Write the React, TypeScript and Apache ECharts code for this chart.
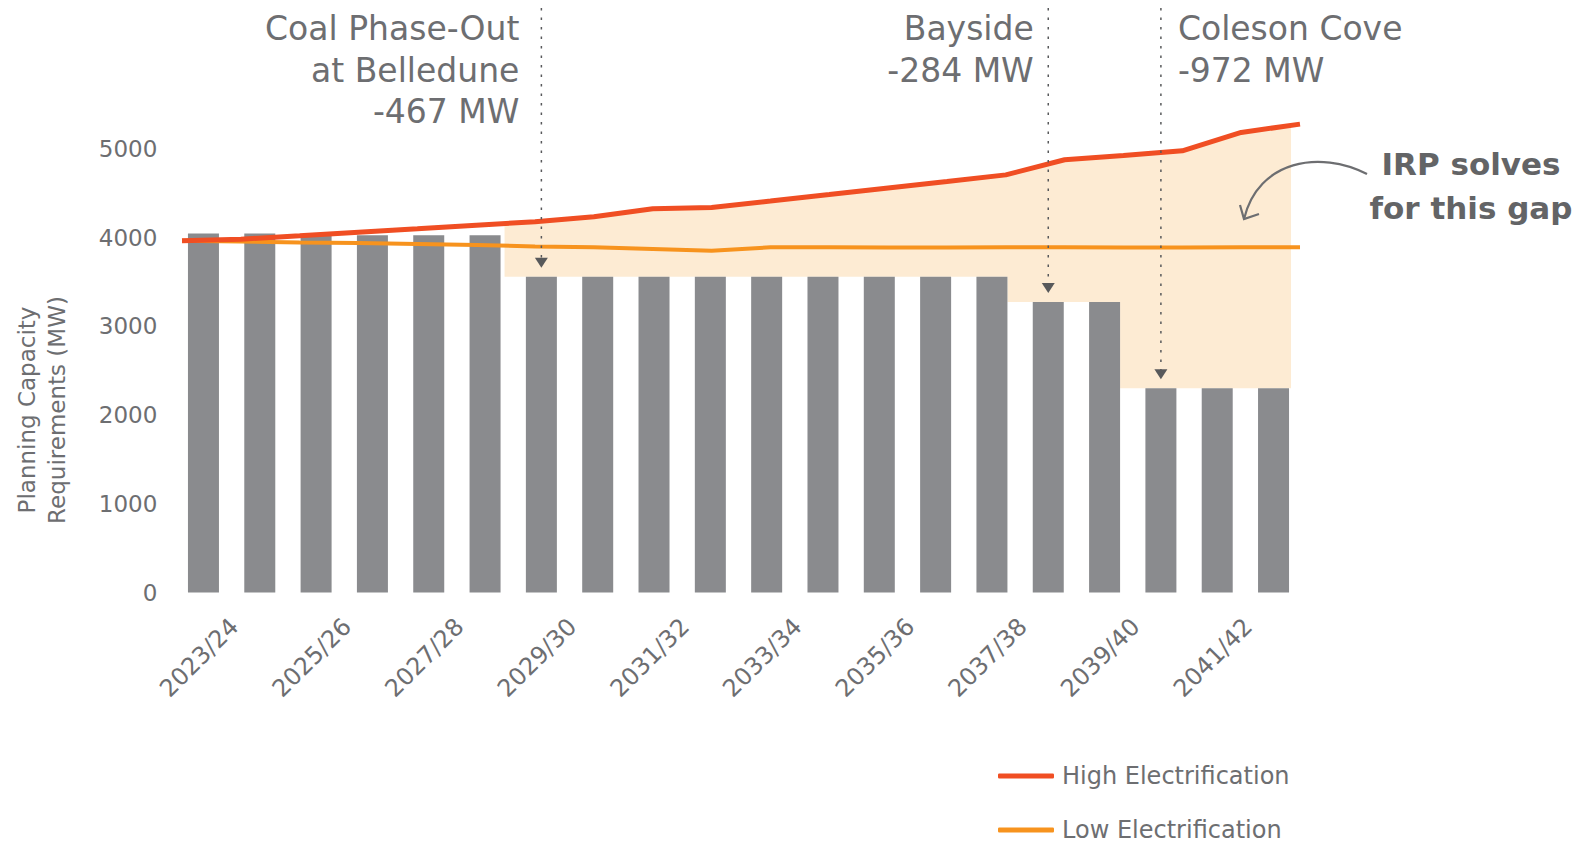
import React, { useEffect, useRef } from "react";
import * as echarts from "echarts";

const categories = [
  "2023/24", "2024/25", "2025/26", "2026/27", "2027/28", "2028/29", "2029/30",
  "2030/31", "2031/32", "2032/33", "2033/34", "2034/35", "2035/36", "2036/37",
  "2037/38", "2038/39", "2039/40", "2040/41", "2041/42", "2042/43",
];
const capacity = [
  4045, 4045, 4025, 4025, 4025, 4025, 3558, 3558, 3558, 3558,
  3558, 3558, 3558, 3558, 3558, 3274, 3274, 2302, 2302, 2302,
];
const highElectrification = [
  3964, 3981, 4020, 4060, 4099, 4139, 4178, 4234, 4324, 4339,
  4411, 4484, 4559, 4632, 4706, 4876, 4924, 4977, 5184, 5278,
];
const lowElectrification = [
  3964, 3956, 3945, 3938, 3927, 3915, 3900, 3889, 3870, 3851,
  3889, 3889, 3888, 3888, 3889, 3889, 3888, 3888, 3889, 3889,
];
const yTicks = [0, 1000, 2000, 3000, 4000, 5000];
const retirementIndex = [6, 15, 17];
const retirementText = [
  "Coal Phase-Out\nat Belledune\n-467 MW",
  "Bayside\n-284 MW",
  "Coleson Cove\n-972 MW",
];
const seriesNames = ["High Electrification", "Low Electrification"];
const axisTitle = "Planning Capacity\nRequirements (MW)";
const gapText = "IRP solves\nfor this gap";

const FONT = "DejaVu Sans";
const GREY = "#6d6e71";
const BAR = "#8a8b8e";
const RED = "#f04e23";
const ORANGE = "#f7931e";
const FILL = "#fdebd3";
const BAR_W = 31;

export default function App() {
  const ref = useRef<HTMLDivElement>(null);

  useEffect(() => {
    if (!ref.current) return;
    const chart = echarts.init(ref.current, undefined, { renderer: "svg" });
    const gridTop = 104.4;
    const gridBottom = 250.5;
    const gridLeft = 175.3;
    const gridRight = 287.3;
    const labelShift = 31;
    const lineLeft = 182;
    const lineRight = 289;

    const option: any = {
      animation: false,
      backgroundColor: "#ffffff",
      textStyle: { fontFamily: FONT },
      grid: [
        { left: gridLeft, right: gridRight, top: gridTop, bottom: gridBottom },
        { left: gridLeft + labelShift, right: gridRight - labelShift, top: gridTop, bottom: gridBottom },
        { left: lineLeft, right: lineRight, top: gridTop, bottom: gridBottom },
      ],
      legend: {
        orient: "vertical",
        left: 993,
        top: 759,
        height: 90,
        itemWidth: 56,
        itemHeight: 5,
        itemGap: 30,
        icon: "roundRect",
        data: seriesNames,
        textStyle: { fontFamily: FONT, fontSize: 24, lineHeight: 24, color: GREY, padding: [0, 0, 0, 3] },
      },
      xAxis: [
        {
          type: "category",
          gridIndex: 0,
          data: categories,
          axisLine: { show: false },
          axisTick: { show: false },
          axisLabel: { show: false },
          splitLine: { show: false },
        },
        {
          type: "category",
          gridIndex: 1,
          data: categories,
          axisLine: { show: false },
          axisTick: { show: false },
          splitLine: { show: false },
          axisLabel: {
            rotate: 45,
            interval: 1,
            margin: 30,
            fontFamily: FONT,
            fontSize: 24,
            color: GREY,
          },
        },
        {
          type: "category",
          gridIndex: 2,
          data: categories,
          boundaryGap: false,
          show: false,
        },
      ],
      yAxis: [
        {
          type: "value",
          gridIndex: 0,
          min: 0,
          max: 5500,
          interval: 1000,
          axisLine: { show: false },
          axisTick: { show: false },
          splitLine: { show: false },
          axisLabel: {
            margin: 18,
            fontFamily: FONT,
            fontSize: 23,
            color: GREY,
            showMaxLabel: false,
            formatter: (v: number) => (yTicks.indexOf(v) >= 0 ? String(v) : ""),
          },
        },
        { type: "value", gridIndex: 1, show: false },
        { type: "value", gridIndex: 2, min: 0, max: 5500, show: false },
      ],
      series: [
        {
          type: "custom",
          name: "gap",
          xAxisIndex: 2,
          yAxisIndex: 2,
          z: 1,
          silent: true,
          data: [[0, 0]],
          renderItem: (params: any, api: any) => {
            if (params.dataIndex !== 0) return null;
            const n = categories.length;
            const barGridW = chart.getWidth() - gridLeft - gridRight;
            const band = barGridW / n;
            const edge = (k: number) => gridLeft + (k + 0.5) * band + BAR_W / 2;
            const top = highElectrification.map((v, i) => api.coord([i, v]));
            const yOf = (v: number) => api.coord([0, v])[1];
            const highAt = (x: number) => {
              for (let i = 0; i < top.length - 1; i++) {
                const a = top[i];
                const b = top[i + 1];
                if (x >= a[0] && x <= b[0]) {
                  return a[1] + ((x - a[0]) / (b[0] - a[0])) * (b[1] - a[1]);
                }
              }
              return top[top.length - 1][1];
            };
            const start = retirementIndex[0];
            const x0 = edge(start - 1) + 4;
            const x1 = edge(n - 1) + 2;
            const pts: number[][] = [[x0, highAt(x0)]];
            top.forEach((p: number[]) => {
              if (p[0] > x0 && p[0] < x1) pts.push([p[0], p[1]]);
            });
            pts.push([x1, highAt(x1)]);
            const bottom: number[][] = [];
            for (let k = start; k < n; k++) {
              const y = yOf(capacity[k]);
              bottom.push([k === start ? x0 : edge(k - 1), y]);
              bottom.push([k === n - 1 ? x1 : edge(k), y]);
            }
            bottom.reverse();
            return {
              type: "polygon",
              shape: { points: pts.concat(bottom) },
              style: { fill: FILL },
            };
          },
        },
        {
          type: "bar",
          name: "Capacity",
          xAxisIndex: 0,
          yAxisIndex: 0,
          data: capacity,
          barWidth: BAR_W,
          itemStyle: { color: BAR },
          z: 2,
        },
        {
          type: "line",
          name: seriesNames[0],
          xAxisIndex: 2,
          yAxisIndex: 2,
          data: highElectrification,
          symbol: "none",
          lineStyle: { color: RED, width: 5 },
          itemStyle: { color: RED },
          z: 4,
        },
        {
          type: "line",
          name: seriesNames[1],
          xAxisIndex: 2,
          yAxisIndex: 2,
          data: lowElectrification,
          symbol: "none",
          lineStyle: { color: ORANGE, width: 4 },
          itemStyle: { color: ORANGE },
          z: 3,
        },
      ],
    };
    chart.setOption(option);

    const graphics: any[] = [];
    const textOffsets = [-22, -14.5, 17];
    retirementIndex.forEach((idx, j) => {
      const p = chart.convertToPixel({ xAxisIndex: 0, yAxisIndex: 0 }, [idx, capacity[idx]]) as number[];
      const lx = p[0];
      const tip = p[1] - 9;
      graphics.push({
        type: "line",
        shape: { x1: lx, y1: 8, x2: lx, y2: tip - 9 },
        style: { stroke: "#58595b", lineWidth: 1.5, lineDash: [2.5, 7] },
        z: 10,
      });
      graphics.push({
        type: "polygon",
        shape: { points: [[lx - 6.5, tip - 10], [lx + 6.5, tip - 10], [lx, tip]] },
        style: { fill: "#58595b" },
        z: 10,
      });
      const right = textOffsets[j] < 0;
      graphics.push({
        type: "text",
        x: lx + textOffsets[j],
        y: 8,
        style: {
          text: retirementText[j],
          fontFamily: FONT,
          fontSize: 33,
          lineHeight: 41.5,
          fill: GREY,
          align: right ? "right" : "left",
          verticalAlign: "top",
        },
        z: 10,
      });
    });

    graphics.push({
      type: "text",
      x: 42,
      y: 410,
      rotation: Math.PI / 2,
      style: {
        text: axisTitle,
        fontFamily: FONT,
        fontSize: 23,
        lineHeight: 30,
        fill: GREY,
        align: "center",
        verticalAlign: "middle",
      },
    });
    graphics.push({
      type: "text",
      x: 1471,
      y: 186,
      style: {
        text: gapText,
        fontFamily: FONT,
        fontWeight: "bold",
        fontSize: 31,
        lineHeight: 44,
        fill: "#636466",
        align: "center",
        verticalAlign: "middle",
      },
    });
    graphics.push({
      type: "bezierCurve",
      shape: { x1: 1367, y1: 174, cpx1: 1320, cpy1: 150, cpx2: 1258, cpy2: 160, x2: 1244, y2: 219 },
      style: { stroke: "#6d6e71", lineWidth: 2.2, fill: null },
      z: 10,
    });
    graphics.push({
      type: "polyline",
      shape: { points: [[1240, 205], [1244, 219], [1259, 214]] },
      style: { stroke: "#6d6e71", lineWidth: 2.2, fill: null },
      z: 10,
    });

    chart.setOption({ graphic: graphics });

    return () => chart.dispose();
  }, []);

  return (
    <div
      ref={ref}
      style={{ position: "absolute", left: 0, top: 0, width: 1589, height: 843 }}
    />
  );
}
